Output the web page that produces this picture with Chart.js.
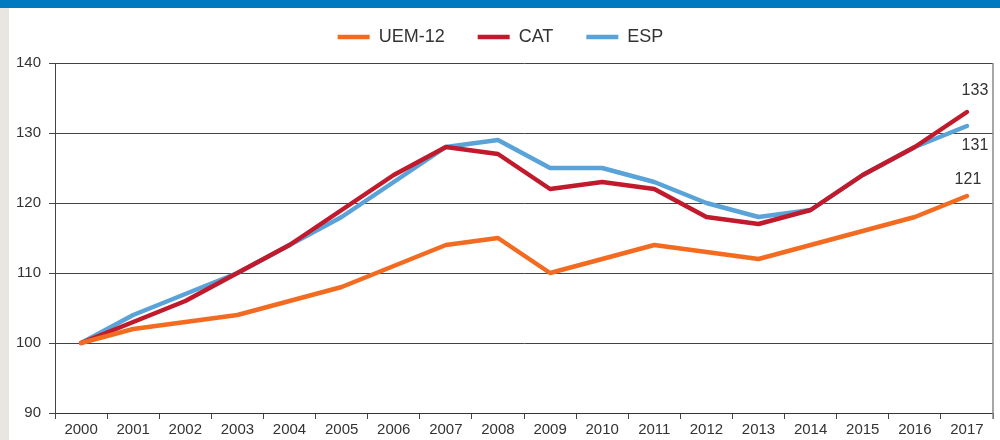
<!DOCTYPE html>
<html>
<head>
<meta charset="utf-8">
<script src="https://cdn.jsdelivr.net/npm/chart.js@4.4.1/dist/chart.umd.min.js"></script>
<style>
  html, body { margin: 0; padding: 0; background: #fff; }
  #wrap { position: relative; width: 1000px; height: 440px; overflow: hidden; }
  #band { position: absolute; left: 0; top: 0; width: 1000px; height: 8px; background: #0079c1; }
  #strip { position: absolute; left: 0; top: 8px; width: 9px; height: 432px; background: #e8e6e1; }
  #graf { position: absolute; left: 0; top: 0; }
</style>
</head>
<body>
<div id="wrap">
  <div id="band"></div>
  <div id="strip"></div>
  <canvas id="graf" width="1000" height="440"></canvas>
</div>
<script>
var anys = ["2000", "2001", "2002", "2003", "2004", "2005", "2006", "2007", "2008",
    "2009", "2010", "2011", "2012", "2013", "2014", "2015", "2016", "2017"];
var uem12 = [100, 102, 103, 104, 106, 108, 111, 114, 115, 110, 112, 114, 113, 112, 114, 116, 118, 121];
var cat = [100, 103, 106, 110, 114, 119, 124, 128, 127, 122, 123, 122, 118, 117, 119, 124, 128, 133];
var esp = [100, 104, 107, 110, 114, 118, 123, 128, 129, 125, 125, 123, 120, 118, 119, 124, 128, 131];
var escalaY = [90, 100, 110, 120, 130, 140];

var lletra = "'Liberation Sans', Arial, sans-serif";

// valor final de cada serie, escrit al costat de l'ultim punt
var etiquetesFinals = {
    id: "etiquetesFinals",
    afterDatasetsDraw(chart) {
        var c = chart.ctx;
        var despl = [[1, -16], [8, -21], [8, 20]];
        c.save();
        c.font = "16px " + lletra;
        c.fillStyle = "#333";
        c.textAlign = "center";
        c.textBaseline = "middle";
        chart.data.datasets.forEach(function (ds, i) {
            var meta = chart.getDatasetMeta(i);
            var p = meta.data[meta.data.length - 1];
            var valor = ds.data[ds.data.length - 1];
            c.fillText(String(valor), p.x + despl[i][0], p.y + despl[i][1]);
        });
        c.restore();
    },
};

// linia vertical que tanca el grafic per la dreta
var vora = {
    id: "vora",
    afterDraw(chart) {
        var a = chart.chartArea;
        var c = chart.ctx;
        c.save();
        c.strokeStyle = "#888";
        c.lineWidth = 1.5;
        c.beginPath();
        c.moveTo(a.right, a.top);
        c.lineTo(a.right, a.bottom + 6);
        c.stroke();
        c.restore();
    },
};

// llegenda amb mes aire a sota del que dona el padding
var llegenda = {
    id: "llegendaCompacta",
    beforeInit(chart) {
        var fit = chart.legend.fit;
        chart.legend.fit = function () {
            fit.bind(this)();
            this.height = 68;
        };
    },
};

var ctx = document.getElementById("graf").getContext("2d");
var myChart = new Chart(ctx, {
    type: "line",
    data: {
        labels: anys,
        datasets: [
            { label: "UEM-12", data: uem12, borderColor: "#f26b21", backgroundColor: "#f26b21", borderWidth: 4.5 },
            { label: "CAT", data: cat, borderColor: "#c01a2c", backgroundColor: "#c01a2c", borderWidth: 4.5 },
            { label: "ESP", data: esp, borderColor: "#5aa3d9", backgroundColor: "#5aa3d9", borderWidth: 4.5 },
        ],
    },
    options: {
        responsive: false,
        animation: false,
        layout: { padding: { left: 8, right: 7, top: -5, bottom: 0 } },
        elements: {
            line: { tension: 0, borderCapStyle: "round", borderJoinStyle: "round" },
            point: { radius: 0 },
        },
        plugins: {
            legend: {
                position: "top",
                labels: {
                    usePointStyle: true,
                    pointStyle: "line",
                    pointStyleWidth: 32,
                    padding: 33,
                    color: "#333",
                    font: { family: lletra, size: 18 },
                },
            },
            tooltip: { enabled: false },
        },
        scales: {
            x: {
                offset: true,
                grid: { offset: true, drawOnChartArea: false, tickLength: 6, color: "#444" },
                border: { color: "#333", width: 1 },
                ticks: { color: "#333", padding: 3, font: { family: lletra, size: 15, lineHeight: 1 }, maxRotation: 0 },
            },
            y: {
                min: escalaY[0],
                max: escalaY[escalaY.length - 1],
                afterBuildTicks: function (axis) {
                    axis.ticks = escalaY.map(function (v) { return { value: v }; });
                },
                grid: { color: "#444", lineWidth: 1, tickLength: 6 },
                border: { color: "#444", width: 1 },
                ticks: { color: "#333", padding: 8, font: { family: lletra, size: 15 } },
            },
        },
    },
    plugins: [etiquetesFinals, vora, llegenda],
});
</script>
</body>
</html>
